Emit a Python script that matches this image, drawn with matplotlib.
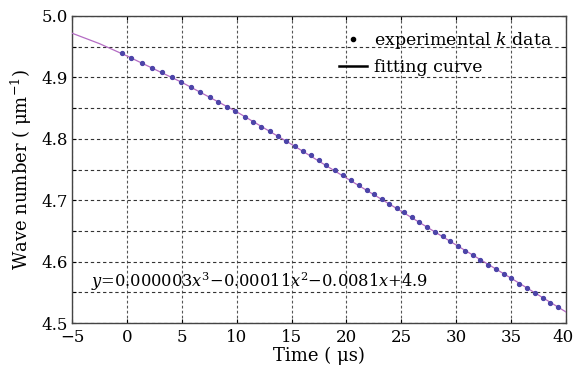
import matplotlib
matplotlib.use("Agg")
import matplotlib.pyplot as plt
from matplotlib.lines import Line2D
from matplotlib.ticker import MultipleLocator
from matplotlib.transforms import ScaledTranslation

plt.rcParams['font.family'] = ['DejaVu Serif']
plt.rcParams['mathtext.fontset'] = 'dejavuserif'

# experimental k data (time in us, wave number in um^-1)
time_us = [-0.43, 0.42, 1.39, 2.33, 3.21, 4.12, 4.97, 5.85, 6.70, 7.55,
           8.31, 9.13, 9.89, 10.73, 11.50, 12.23, 13.01, 13.78, 14.53, 15.29,
           16.05, 16.74, 17.47, 18.17, 18.93, 19.66, 20.39, 21.12, 21.84, 22.52,
           23.25, 23.91, 24.58, 25.21, 25.98, 26.64, 27.34, 28.04, 28.76, 29.47,
           30.13, 30.83, 31.50, 32.20, 32.90, 33.63, 34.32, 34.99, 35.75, 36.45,
           37.14, 37.87, 38.57, 39.24]
wave_number = [4.939, 4.932, 4.924, 4.916, 4.908, 4.900, 4.892, 4.884, 4.876, 4.868,
               4.860, 4.852, 4.845, 4.836, 4.828, 4.820, 4.812, 4.804, 4.796, 4.789,
               4.780, 4.773, 4.765, 4.757, 4.749, 4.741, 4.733, 4.725, 4.717, 4.710,
               4.702, 4.694, 4.687, 4.680, 4.672, 4.664, 4.657, 4.649, 4.641, 4.633,
               4.626, 4.618, 4.611, 4.603, 4.595, 4.588, 4.580, 4.573, 4.564, 4.557,
               4.549, 4.541, 4.533, 4.526]

# fitting curve
fit_time = [-5, -2.5, 0, 5, 10, 15, 20, 25, 30, 35, 40]
fit_wave = [4.972, 4.955, 4.935, 4.892, 4.844, 4.791, 4.736, 4.682, 4.627, 4.573, 4.518]

x_ticks = [-5, 0, 5, 10, 15, 20, 25, 30, 35, 40]
y_ticks = [4.5, 4.6, 4.7, 4.8, 4.9, 5.0]

fig = plt.figure(figsize=(5.74, 3.72), dpi=100)
ax = fig.add_axes([0.1254, 0.1317, 0.986 - 0.1254, 0.957 - 0.1317])

ax.plot(fit_time, fit_wave, color='#b46cc4', lw=0.9, zorder=3)
ax.plot(time_us, wave_number, linestyle='none', marker='o', ms=2.8,
        color='#4c44a8', mec='#4c44a8', zorder=4)

ax.set_xlim(-5, 40)
ax.set_ylim(4.5, 5.0)
ax.set_xticks(x_ticks)
ax.set_xticklabels(['\u2212' + str(-t) if t < 0 else str(t) for t in x_ticks])
ax.set_yticks(y_ticks)
ax.set_yticklabels([f"{v:.1f}" for v in y_ticks])
ax.yaxis.set_minor_locator(MultipleLocator(0.05))

ax.grid(True, which='major', axis='x', color='#555555', linestyle=(0, (2.5, 2)), lw=0.8)
ax.grid(True, which='both', axis='y', color='#333333', linestyle=(0, (3, 2.5)), lw=0.8)
ax.set_axisbelow(True)

ax.tick_params(which='both', direction='in', top=True, right=True, length=3,
               labelsize=12, width=0.8, pad=3)
ax.tick_params(axis='x', pad=4)
for sp in ax.spines.values():
    sp.set_color('#444444')
    sp.set_linewidth(1.0)

# keep the last x tick label inside the figure
last_lbl = ax.get_xticklabels()[-1]
last_lbl.set_transform(last_lbl.get_transform() + ScaledTranslation(-3 / 100, 0, fig.dpi_scale_trans))

ax.set_xlabel('Time ( \u03bcs)', fontsize=13, labelpad=1)
ax.set_ylabel('Wave number ( \u03bcm$^{-1}$)', fontsize=13, labelpad=5)

ax.text(-3.3, 4.568, r'$y$=0.000003$x^3$$-$0.00011$x^2$$-$0.0081$x$+4.9',
        fontsize=11.7, va='center', ha='left', zorder=5)

handles = [Line2D([], [], linestyle='none', marker='o', ms=3, color='black'),
           Line2D([], [], color='black', lw=1.8)]
ax.legend(handles, ['experimental $k$ data', 'fitting curve'], loc='upper right',
          frameon=False, fontsize=12.5, handlelength=1.6, handletextpad=0.4,
          borderaxespad=0.2, labelspacing=0.45, borderpad=0.6)

fig.savefig('out.png', dpi=100)
